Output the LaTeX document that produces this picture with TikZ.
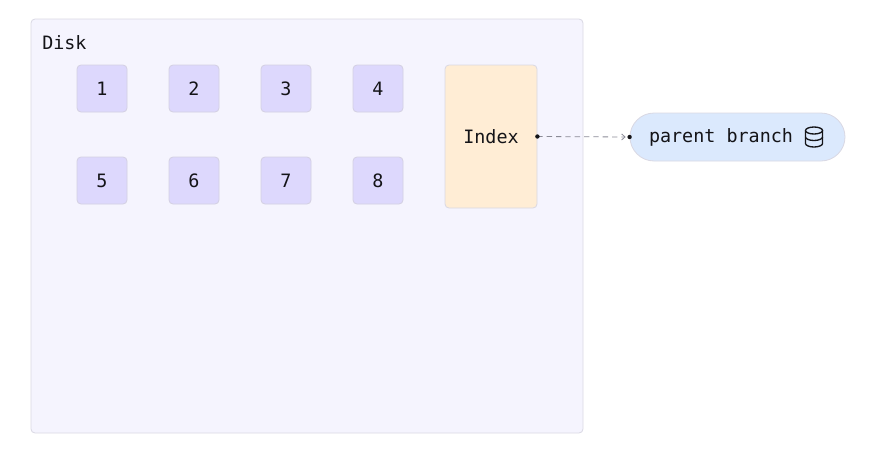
\documentclass[tikz,border=0pt]{standalone}
\usepackage{fontspec}
\setmonofont{DejaVu Sans Mono}
\usetikzlibrary{arrows.meta}

\definecolor{diskfill}{HTML}{F5F4FE}
\definecolor{diskline}{HTML}{D9D8E3}
\definecolor{blockfill}{HTML}{DDD8FD}
\definecolor{blockline}{HTML}{D3D0E2}
\definecolor{indexfill}{HTML}{FFEDD5}
\definecolor{branchfill}{HTML}{DBE9FD}
\definecolor{inkcol}{HTML}{141418}
\definecolor{flowcol}{HTML}{8A8A96}

\tikzset{
  txt/.style={font=\ttfamily\fontsize{13.8pt}{16pt}\selectfont, text=inkcol},
  block/.style={txt, draw=blockline, fill=blockfill, rounded corners=3pt, line width=0.6pt,
    minimum width=37.5pt, minimum height=35.25pt, inner sep=0pt},
  indexbox/.style={txt, draw=diskline, fill=indexfill, rounded corners=3pt, line width=0.6pt,
    minimum width=69pt, minimum height=107.25pt, inner sep=0pt},
  pill/.style={draw=diskline, fill=branchfill, rounded corners=18pt, line width=0.6pt,
    minimum width=161.25pt, minimum height=36pt, inner sep=0pt},
  flow/.style={flowcol, dashed, dash pattern=on 4pt off 3pt, line width=0.6pt,
    -{Straight Barb[length=2.5pt,width=4.5pt]}, shorten >=3pt}
}

\begin{document}
\begin{tikzpicture}[x=0.75pt,y=0.75pt,yscale=-1,xscale=1]
\useasboundingbox (0,0) rectangle (882,450);

%Shape: Disk container
\draw[draw=diskline, fill=diskfill, rounded corners=3pt, line width=0.6pt] (31,19) rectangle (583,433);
% Text Node
\node[txt, anchor=west, inner sep=0pt] (disk) at (42,43) {Disk};

% Blocks
\node[block] (b1) at (102,88.5) {1};
\node[block] (b2) at (194,88.5) {2};
\node[block] (b3) at (286,88.5) {3};
\node[block] (b4) at (378,88.5) {4};
\node[block] (b5) at (102,180.5) {5};
\node[block] (b6) at (194,180.5) {6};
\node[block] (b7) at (286,180.5) {7};
\node[block] (b8) at (378,180.5) {8};

% Index
\node[indexbox] (idx) at (491,136.5) {Index};

%Shape: parent branch
\node[pill] (pb) at (737.5,137) {};
\node[txt, inner sep=0pt] (pbtext) at (721,137.5) {parent branch};
% database icon
\draw[inkcol, line width=1pt] (814,130.5) ellipse [x radius=8.5, y radius=3.5];
\draw[inkcol, line width=1pt] (805.5,130.5) -- (805.5,143.5) arc [start angle=180, end angle=360, x radius=8.5, y radius=-3.5] -- (822.5,130.5);
\draw[inkcol, line width=1pt] (805.5,137) arc [start angle=180, end angle=360, x radius=8.5, y radius=-3.5];

% connector
\draw[flow] (idx.east) -- (pb.west);
\fill[inkcol] (idx.east) circle (2.2);
\fill[inkcol] (pb.west) circle (2.2);

\end{tikzpicture}
\end{document}
